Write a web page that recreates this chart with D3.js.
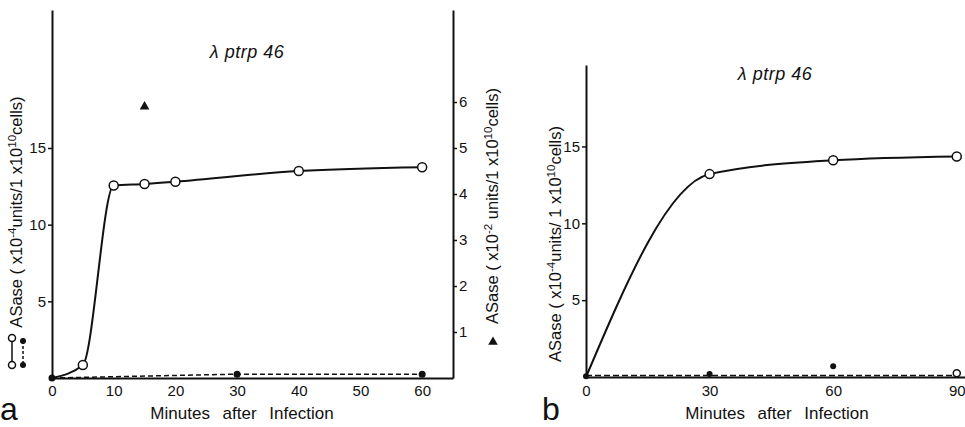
<!DOCTYPE html>
<html lang="en">
<head>
<meta charset="UTF-8">
<title>ASase after infection, lambda ptrp 46</title>
<script src="https://cdn.jsdelivr.net/npm/d3@7"></script>
<style>
  body { margin: 0; background: #fff; }
  svg { display: block; font-family: "Liberation Sans", Arial, sans-serif; }
  .tick text { font-size: 15px; fill: #111; }
  .tick line, .domain { stroke: #111; }
</style>
</head>
<body>
<div id="chart"></div>
<script>
// panel a : open circles, solid line (left axis)
var minA = [0, 5, 10, 15, 20, 40, 60];
var openA = [0, 0.85, 12.55, 12.65, 12.8, 13.5, 13.75];
// panel a : filled circles, dashed line (left axis)
var minAClosed = [0, 30, 60];
var closedA = [0, 0.25, 0.25];
// panel a : triangle (right axis, x10^-2)
var minATri = [15];
var triA = [5.9];
var xTicksA = [0, 10, 20, 30, 40, 50, 60];
var yTicksA = [5, 10, 15];
var yTicksA2 = [1, 2, 3, 4, 5, 6];

// panel b
var minB = [0, 30, 60, 90];
var openB = [0, 13.2, 14.1, 14.35];
var closedB = [0.05, 0.2, 0.7, 0.25];
var dashB = [0.1, 0.1, 0.1, 0.1];
var xTicksB = [0, 30, 60, 90];
var yTicksB = [5, 10, 15];

var W = 965, H = 427;
var svg = d3.select("#chart").append("svg").attr("width", W).attr("height", H);

function yLabel(g, x, y, pre, exp1, mid, exp2, post, size) {
  var t = g.append("text")
    .attr("transform", "translate(" + x + "," + y + ") rotate(-90)")
    .attr("text-anchor", "middle")
    .style("font-size", size + "px").attr("fill", "#111");
  t.append("tspan").text(pre);
  t.append("tspan").attr("dy", -6).style("font-size", (size - 5) + "px").text(exp1);
  t.append("tspan").attr("dy", 6).text(mid);
  t.append("tspan").attr("dy", -6).style("font-size", (size - 5) + "px").text(exp2);
  t.append("tspan").attr("dy", 6).text(post);
  return t;
}

function styleAxis(g) {
  g.select(".domain").attr("stroke-width", 2);
  g.selectAll(".tick line").attr("stroke-width", 1.5);
}

// ---------- panel a ----------
var xa = d3.scaleLinear().domain([0, 65]).range([52, 453]);
var ya = d3.scaleLinear().domain([0, 24]).range([378, 10]);
var ya2 = d3.scaleLinear().domain([0, 8]).range([378, 10]);
var ga = svg.append("g");

ga.append("g").attr("transform", "translate(0,378)")
  .call(d3.axisBottom(xa).tickValues(xTicksA).tickSize(0).tickPadding(7).tickSizeOuter(0))
  .call(styleAxis);
ga.append("g").attr("transform", "translate(52,0)")
  .call(d3.axisLeft(ya).tickValues(yTicksA).tickSize(4).tickPadding(2).tickSizeOuter(0))
  .call(styleAxis);
ga.append("g").attr("transform", "translate(453,0)")
  .call(d3.axisRight(ya2).tickValues(yTicksA2).tickSize(4).tickPadding(2).tickSizeOuter(0))
  .call(styleAxis);

var ptsA = minA.map(function(m, i) { return [m, openA[i]]; });
var ptsAc = minAClosed.map(function(m, i) { return [m, closedA[i]]; });

ga.append("path").datum(ptsAc)
  .attr("fill", "none").attr("stroke", "#111").attr("stroke-width", 1.5)
  .attr("stroke-dasharray", "5,3")
  .attr("d", d3.line().x(function(d) { return xa(d[0]); }).y(function(d) { return ya(d[1]); }));
ga.append("path").datum(ptsA)
  .attr("fill", "none").attr("stroke", "#111").attr("stroke-width", 2)
  .attr("d", d3.line().curve(d3.curveMonotoneX)
    .x(function(d) { return xa(d[0]); }).y(function(d) { return ya(d[1]); }));
ga.selectAll("circle.c").data(ptsAc).enter().append("circle")
  .attr("cx", function(d) { return xa(d[0]); }).attr("cy", function(d) { return ya(d[1]); })
  .attr("r", 3.5).attr("fill", "#111");
ga.selectAll("circle.o").data(ptsA.slice(1)).enter().append("circle")
  .attr("cx", function(d) { return xa(d[0]); }).attr("cy", function(d) { return ya(d[1]); })
  .attr("r", 4.5).attr("fill", "#fff").attr("stroke", "#111").attr("stroke-width", 1.5);
ga.selectAll("path.tri").data(minATri).enter().append("path")
  .attr("transform", function(d, i) { return "translate(" + xa(d) + "," + ya2(triA[i]) + ")"; })
  .attr("d", d3.symbol().type(d3.symbolTriangle).size(40)).attr("fill", "#111");

ga.append("text").attr("x", 247).attr("y", 58).attr("text-anchor", "middle")
  .style("font-size", "18px").style("font-style", "italic").style("letter-spacing", "0.5px")
  .attr("fill", "#111").text("λ ptrp 46");
ga.append("text").attr("x", 242).attr("y", 419).attr("text-anchor", "middle")
  .style("font-size", "17px").style("word-spacing", "8px").attr("fill", "#111").text("Minutes after Infection");
ga.append("text").attr("x", 0).attr("y", 420)
  .style("font-size", "32px").attr("fill", "#111").text("a");

yLabel(ga, 22, 212, "ASase ( x10", "-4", "units/1 x10", "10", "cells)", 16.5);
yLabel(ga, 498, 206, "ASase ( x10", "-2", " units/1 x10", "10", "cells)", 16.5);
ga.append("path").attr("transform", "translate(493,342)")
  .attr("d", d3.symbol().type(d3.symbolTriangle).size(40)).attr("fill", "#111");

// legend glyphs beside the left label
var lg = ga.append("g");
lg.append("line").attr("x1", 12).attr("x2", 12).attr("y1", 338).attr("y2", 365)
  .attr("stroke", "#111").attr("stroke-width", 1.5);
lg.append("line").attr("x1", 23).attr("x2", 23).attr("y1", 341).attr("y2", 365)
  .attr("stroke", "#111").attr("stroke-width", 1.5).attr("stroke-dasharray", "3,2");
[338, 365].forEach(function(y) {
  lg.append("circle").attr("cx", 12).attr("cy", y).attr("r", 3.5)
    .attr("fill", "#fff").attr("stroke", "#111").attr("stroke-width", 1.5);
});
[341, 365].forEach(function(y) {
  lg.append("circle").attr("cx", 23).attr("cy", y).attr("r", 3).attr("fill", "#111");
});

// ---------- panel b ----------
var xb = d3.scaleLinear().domain([0, 92]).range([586, 965]);
var yb = d3.scaleLinear().domain([0, 20.3]).range([377, 65]);
var gb = svg.append("g");

gb.append("g").attr("transform", "translate(0,377)")
  .call(d3.axisBottom(xb).tickValues(xTicksB).tickSize(0).tickPadding(8).tickSizeOuter(0))
  .call(styleAxis);
gb.append("g").attr("transform", "translate(586,0)")
  .call(d3.axisLeft(yb).tickValues(yTicksB).tickSize(4).tickPadding(2).tickSizeOuter(0))
  .call(styleAxis);

var ptsB = minB.map(function(m, i) { return [m, openB[i]]; });
var ptsBc = minB.map(function(m, i) { return [m, closedB[i]]; });
var ptsBd = minB.map(function(m, i) { return [m, dashB[i]]; });

gb.append("path").datum(ptsBd)
  .attr("fill", "none").attr("stroke", "#111").attr("stroke-width", 1.5)
  .attr("stroke-dasharray", "6,3")
  .attr("d", d3.line().x(function(d) { return xb(d[0]); }).y(function(d) { return yb(d[1]); }));
gb.append("path").datum(ptsB)
  .attr("fill", "none").attr("stroke", "#111").attr("stroke-width", 2)
  .attr("d", d3.line().curve(d3.curveMonotoneX)
    .x(function(d) { return xb(d[0]); }).y(function(d) { return yb(d[1]); }));
gb.selectAll("circle.c").data(ptsBc.slice(0, 3)).enter().append("circle")
  .attr("cx", function(d) { return xb(d[0]); }).attr("cy", function(d) { return yb(d[1]); })
  .attr("r", 3).attr("fill", "#111");
gb.selectAll("circle.c2").data(ptsBc.slice(3)).enter().append("circle")
  .attr("cx", function(d) { return xb(d[0]); }).attr("cy", function(d) { return yb(d[1]); })
  .attr("r", 3.5).attr("fill", "#fff").attr("stroke", "#111").attr("stroke-width", 1.5);
gb.selectAll("circle.o").data(ptsB.slice(1)).enter().append("circle")
  .attr("cx", function(d) { return xb(d[0]); }).attr("cy", function(d) { return yb(d[1]); })
  .attr("r", 4.5).attr("fill", "#fff").attr("stroke", "#111").attr("stroke-width", 1.5);

gb.append("text").attr("x", 775).attr("y", 80).attr("text-anchor", "middle")
  .style("font-size", "18px").style("font-style", "italic").style("letter-spacing", "0.5px")
  .attr("fill", "#111").text("λ ptrp 46");
gb.append("text").attr("x", 777).attr("y", 419).attr("text-anchor", "middle")
  .style("font-size", "17px").style("word-spacing", "8px").attr("fill", "#111").text("Minutes after Infection");
gb.append("text").attr("x", 542).attr("y", 420)
  .style("font-size", "32px").attr("fill", "#111").text("b");

yLabel(gb, 561, 244, "ASase ( x10", "-4", "units/ 1 x10", "10", "cells)", 16.5);
</script>
</body>
</html>
